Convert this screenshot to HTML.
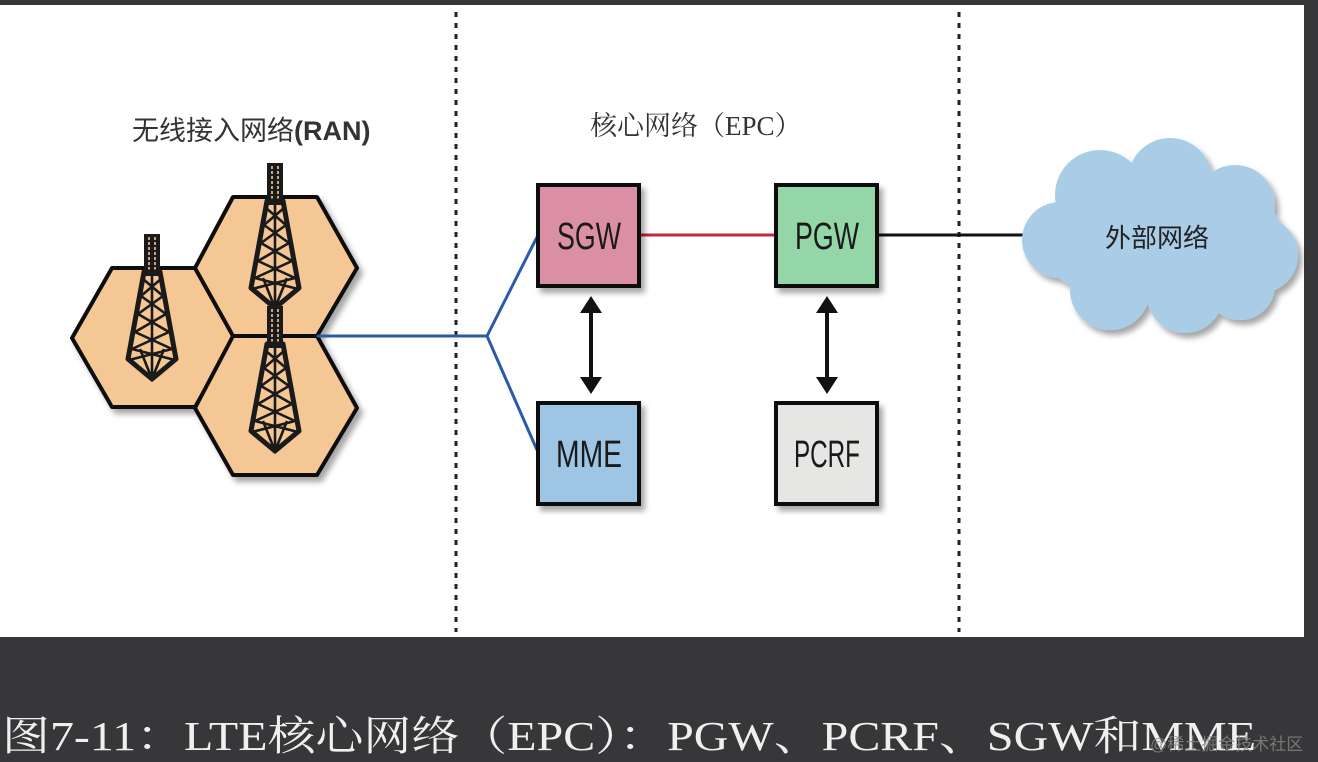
<!DOCTYPE html>
<html><head><meta charset="utf-8"><style>
html,body{margin:0;padding:0;background:#37373a;width:1318px;height:762px;overflow:hidden}
</style></head><body>
<svg width="1318" height="762" xmlns="http://www.w3.org/2000/svg">
<defs>
<g id="tower">
  <rect x="-8" y="0" width="16" height="42" fill="#1a1a1a"/>
  <g stroke="#f3c795" stroke-width="1.6" stroke-dasharray="3,2">
    <line x1="-3" y1="3" x2="-3" y2="40"/><line x1="3" y1="3" x2="3" y2="40"/>
  </g>
  <path d="M-8,38 L-24,125 L0,145 L24,125 L8,38 Z" fill="none" stroke="#1a1a1a" stroke-width="5" stroke-linejoin="round"/>
  <g stroke="#1a1a1a" stroke-width="2.6" fill="none">
    <path d="M-9,45 L11,62 M9,45 L-11,62 M-11,62 L14,80 M11,62 L-14,80 M-14,80 L17,98 M14,80 L-17,98 M-17,98 L20,115 M17,98 L-20,115 M-20,115 L23,126 M20,115 L-23,126"/>
    <path d="M0,42 L0,145 M-22,125 L0,145 L22,125 M-12,115 L0,145 L12,115"/>
  </g>
</g>
<filter id="sh" x="-20%" y="-20%" width="150%" height="150%"><feDropShadow dx="4" dy="5" stdDeviation="3" flood-color="#000" flood-opacity="0.35"/></filter>
</defs>
<rect x="0" y="5" width="1304" height="632" fill="#fff"/>
<g stroke="#222" stroke-width="3" stroke-dasharray="5,6">
<line x1="456" y1="12" x2="456" y2="632"/><line x1="959" y1="12" x2="959" y2="632"/>
</g>
<text x="132" y="140" font-family="Liberation Sans, Noto Sans CJK SC, sans-serif" font-size="27" fill="#333">无线接入网络<tspan font-weight="bold">(RAN)</tspan></text>
<text x="590" y="135" font-family="Liberation Serif, Noto Serif CJK SC, serif" font-size="27" fill="#333">核心网络（EPC）</text>
<g filter="url(#sh)" fill="#f4c795" stroke="#111" stroke-width="4" stroke-linejoin="round">
<polygon points="72,338 112,268 195,268 235,338 195,407 112,407"/>
<polygon points="195,268 233,197 317,197 357,268 317,336 233,336"/>
<polygon points="195,408 233,336 317,336 357,408 317,475 233,475"/>
</g>
<use href="#tower" x="152" y="234"/>
<use href="#tower" x="275" y="163"/>
<use href="#tower" x="275" y="306"/>
<g stroke="#2a5aa8" stroke-width="3" fill="none">
<path d="M317,336 L487,336 L537,237 M487,336 L537,450"/>
</g>
<line x1="640" y1="235" x2="775" y2="235" stroke="#c0283c" stroke-width="3"/>
<line x1="878" y1="235" x2="1035" y2="235" stroke="#111" stroke-width="3"/>
<g filter="url(#sh)" stroke="#111" stroke-width="4">
<rect x="538" y="185" width="101" height="101" fill="#db8fa5"/>
<rect x="776" y="185" width="101" height="101" fill="#94d6a7"/>
<rect x="538" y="403" width="101" height="101" fill="#9ec6e4"/>
<rect x="776" y="403" width="101" height="101" fill="#e6e6e4"/>
</g>
<g font-family="Liberation Sans Narrow, Liberation Sans, sans-serif" font-size="38" fill="#1a1a1a" text-anchor="middle">
<text x="589" y="249" textLength="64" lengthAdjust="spacingAndGlyphs">SGW</text>
<text x="827" y="249" textLength="64" lengthAdjust="spacingAndGlyphs">PGW</text>
<text x="589" y="467" textLength="66" lengthAdjust="spacingAndGlyphs">MME</text>
<text x="827" y="467" textLength="66" lengthAdjust="spacingAndGlyphs">PCRF</text>
</g>
<g fill="#111" stroke="#111">
<line x1="591" y1="310" x2="591" y2="380" stroke-width="4"/>
<polygon points="591,296 580,313 602,313" stroke="none"/>
<polygon points="591,394 580,377 602,377" stroke="none"/>
<line x1="827" y1="310" x2="827" y2="380" stroke-width="4"/>
<polygon points="827,296 816,313 838,313" stroke="none"/>
<polygon points="827,394 816,377 838,377" stroke="none"/>
</g>
<g fill="#a9cde6" filter="url(#sh)">
<ellipse cx="1160" cy="240" rx="125" ry="65"/>
<circle cx="1100" cy="195" r="45"/><circle cx="1170" cy="180" r="42"/><circle cx="1235" cy="205" r="40"/>
<circle cx="1060" cy="240" r="38"/><circle cx="1260" cy="255" r="38"/><circle cx="1110" cy="290" r="40"/>
<circle cx="1185" cy="295" r="38"/><circle cx="1240" cy="285" r="35"/>
</g>
<text x="1157" y="247" font-family="Liberation Sans, Noto Sans CJK SC, sans-serif" font-size="26" fill="#222" text-anchor="middle">外部网络</text>
<text x="2" y="750" font-family="Liberation Serif, Noto Serif CJK SC, serif" font-size="41" fill="#f0f0f0" textLength="1254" lengthAdjust="spacingAndGlyphs">图7-11：LTE核心网络（EPC）：PGW、PCRF、SGW和MME</text>
<text x="1150" y="750" font-family="Liberation Sans, Noto Sans CJK SC, sans-serif" font-size="17" fill="#888" opacity="0.8">@稀土掘金技术社区</text>
</svg>
</body></html>
